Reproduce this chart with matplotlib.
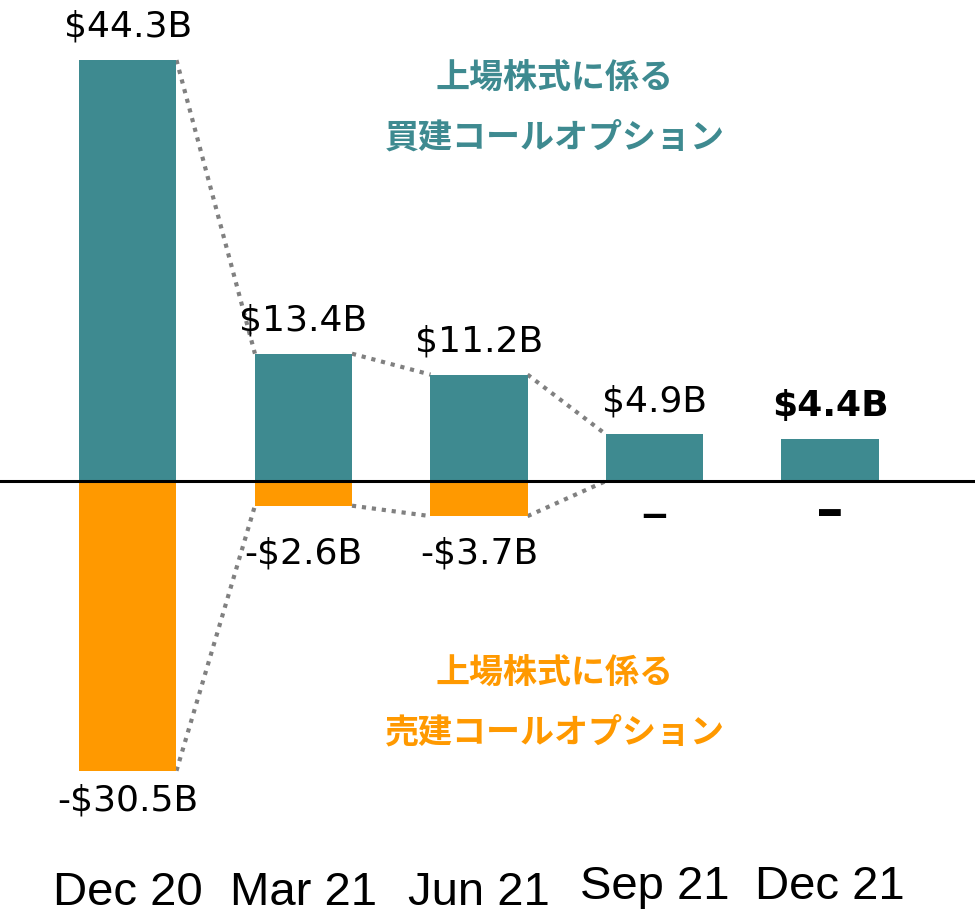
import numpy as np
import matplotlib
matplotlib.use("Agg")
import matplotlib.pyplot as plt

# Datos: opciones de compra sobre acciones cotizadas (miles de millones USD)
periodos = ["Dec 20", "Mar 21", "Jun 21", "Sep 21", "Dec 21"]
compradas = [44.3, 13.4, 11.2, 4.9, 4.4]
vendidas = [-30.5, -2.6, -3.7, 0.0, 0.0]
etiquetas_compradas = ["$44.3B", "$13.4B", "$11.2B", "$4.9B", "$4.4B"]
etiquetas_vendidas = ["-$30.5B", "-$2.6B", "-$3.7B", "–", "–"]

TEAL = "#3E8A90"
NARANJA = "#FF9900"
GRIS = "#808080"

fig = plt.figure(figsize=(9.75, 9.16), dpi=100)
ax = fig.add_axes([0, 0, 1, 1])
ax.set_xlim(-0.729, 4.826)
ax.set_ylim(-45.79, 50.63)
ax.axis("off")

x = np.arange(len(periodos))
ancho = 0.553
ax.bar(x, compradas, width=ancho, color=TEAL, zorder=2)
ax.bar(x, vendidas, width=ancho, color=NARANJA, zorder=2)
ax.axhline(0, color="black", lw=2.2, zorder=3)

# Líneas punteadas entre barras consecutivas (esquina derecha -> esquina izquierda)
punteado = dict(color=GRIS, lw=3, ls=(0, (1, 1.4)), zorder=1)
for i in range(len(x) - 1):
    if i < 3:
        ax.plot([x[i] + ancho / 2, x[i + 1] - ancho / 2], [compradas[i], compradas[i + 1]], **punteado)
    if vendidas[i]:
        ax.plot([x[i] + ancho / 2, x[i + 1] - ancho / 2], [vendidas[i], vendidas[i + 1]], **punteado)

# Etiquetas de valor
for i, (v, t) in enumerate(zip(compradas, etiquetas_compradas)):
    ax.text(x[i], v + 3.5, t, ha="center", va="center", fontsize=26,
            fontweight="bold" if i == len(x) - 1 else "normal", family="DejaVu Sans")
for i, (v, t) in enumerate(zip(vendidas, etiquetas_vendidas)):
    if v == 0:
        ax.text(x[i], -3.4 if i == len(x) - 1 else -3.7, t, ha="center", va="center",
                fontsize=40, fontweight="bold" if i == len(x) - 1 else "normal",
                family="DejaVu Sans")
    else:
        ax.text(x[i], min(v - 3.1, -7.6), t, ha="center", va="center", fontsize=26,
                family="DejaVu Sans")

# Etiquetas de periodo
for i, p in enumerate(periodos):
    ax.text(x[i], -43.4 if i < 3 else -42.7, p, ha="center", va="center",
            fontsize=34, family="Liberation Sans")

# Rótulos de series
ax.text(2.43, 39.3, "上場株式に係る\n買建コールオプション", ha="center", va="center",
        fontsize=24.5, fontweight="bold", color=TEAL, linespacing=1.85,
        family=["Noto Sans CJK JP", "DejaVu Sans"])
ax.text(2.43, -23.3, "上場株式に係る\n売建コールオプション", ha="center", va="center",
        fontsize=24.5, fontweight="bold", color=NARANJA, linespacing=1.85,
        family=["Noto Sans CJK JP", "DejaVu Sans"])

fig.savefig("out.png", dpi=100)
